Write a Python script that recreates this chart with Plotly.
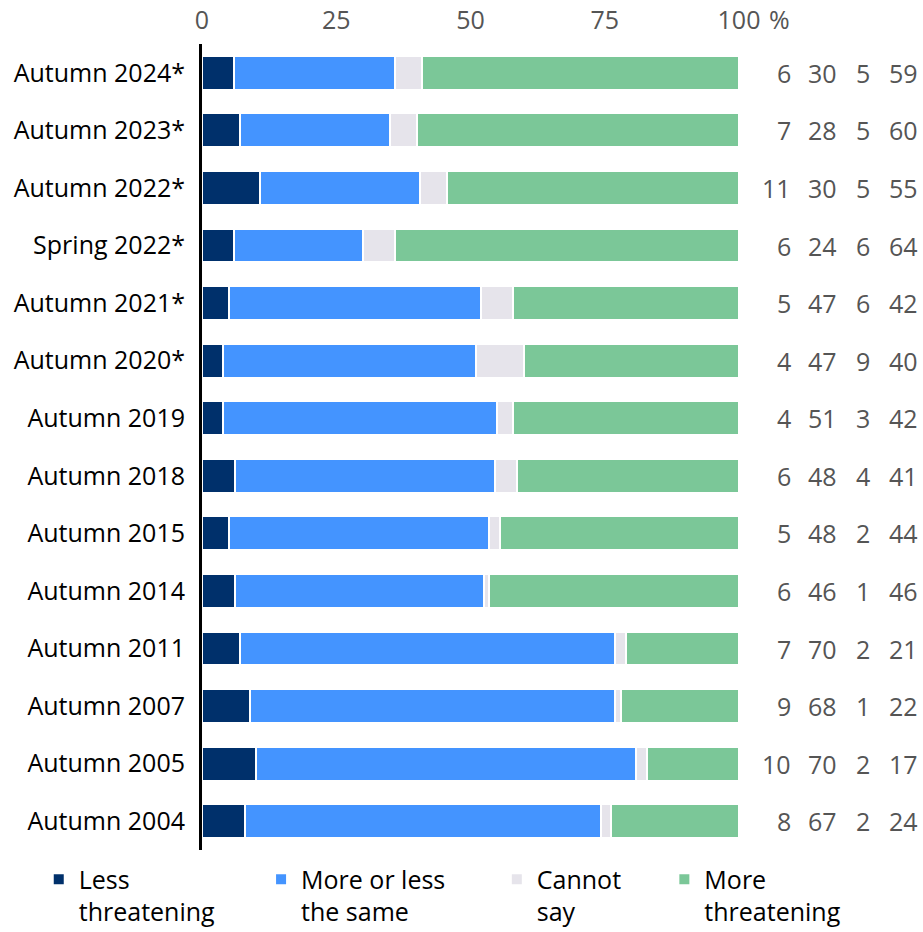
import plotly.graph_objects as go

# ---------------------------------------------------------------------------------------
# Données
# ---------------------------------------------------------------------------------------
periods = ['Autumn 2024*', 'Autumn 2023*', 'Autumn 2022*', 'Spring 2022*',
           'Autumn 2021*', 'Autumn 2020*', 'Autumn 2019', 'Autumn 2018',
           'Autumn 2015', 'Autumn 2014', 'Autumn 2011', 'Autumn 2007',
           'Autumn 2005', 'Autumn 2004']

less_threatening = [6, 7, 11, 6, 5, 4, 4, 6, 5, 6, 7, 9, 10, 8]
same = [30, 28, 30, 24, 47, 47, 51, 48, 48, 46, 70, 68, 70, 67]
cannot_say = [5, 5, 5, 6, 6, 9, 3, 4, 2, 1, 2, 1, 2, 2]
more_threatening = [59, 60, 55, 64, 42, 40, 42, 41, 44, 46, 21, 22, 17, 24]

series_names = ['Less<br>threatening', 'More or less<br>the same', 'Cannot<br>say', 'More<br>threatening']
series_values = [less_threatening, same, cannot_say, more_threatening]
colors = ['#00306b', '#4494ff', '#e6e4eb', '#7bc798']

x_ticks = [0, 25, 50, 75, 100]

FONT = 'Open Sans'
FS = 25

# ---------------------------------------------------------------------------------------
# Figure
# ---------------------------------------------------------------------------------------
fig = go.Figure()

# position des légendes (une par série, pour coller aux écarts du modèle)
legend_x = [-0.304, 0.110, 0.549, 0.861]
legend_names = ['legend', 'legend2', 'legend3', 'legend4']

for i, (name, vals) in enumerate(zip(series_names, series_values)):
    fig.add_trace(go.Bar(
        y=periods,
        x=vals,
        name=name,
        orientation='h',
        marker=dict(color=colors[i], line=dict(color='white', width=2)),
        legend=legend_names[i],
        hoverinfo='skip'
    ))

# colonnes de chiffres à droite
col_x = [1.101, 1.187, 1.248, 1.337]
annotations = []
for j, vals in enumerate(series_values):
    for p, v in zip(periods, vals):
        annotations.append(dict(
            x=col_x[j], xref='paper', y=p, yref='y',
            text=str(v), showarrow=False, xanchor='right', yanchor='middle',
            font=dict(family=FONT, size=FS, color='#555555')
        ))

# le "%" après 100
annotations.append(dict(
    x=100, xref='x', y=1, yref='paper', text='%', showarrow=False,
    xanchor='left', yanchor='middle', xshift=28, yshift=25,
    font=dict(family=FONT, size=FS, color='#555555')
))

layout_legends = {}
for k, ln in enumerate(legend_names):
    layout_legends[ln] = dict(
        x=legend_x[k], xanchor='left', y=-0.008, yanchor='top',
        orientation='h', valign='top', itemwidth=30,
        font=dict(family=FONT, size=FS, color='black'),
        bgcolor='rgba(0,0,0,0)', traceorder='normal'
    )

fig.update_layout(
    width=923, height=932,
    barmode='stack',
    barnorm='percent',
    bargap=0.41,
    plot_bgcolor='white',
    paper_bgcolor='white',
    margin=dict(l=202, r=184, t=44, b=82, autoexpand=False),
    font=dict(family=FONT, size=FS, color='black'),
    showlegend=True,
    annotations=annotations,
    **layout_legends
)

fig.update_xaxes(
    side='top', range=[0, 100], tickvals=x_ticks,
    ticktext=[str(t) for t in x_ticks],
    showgrid=False, zeroline=False, showline=False,
    tickfont=dict(family=FONT, size=FS, color='#555555'),
    ticklabelstandoff=9, fixedrange=True, automargin=False
)
fig.update_yaxes(
    categoryorder='array', categoryarray=periods, autorange='reversed',
    showgrid=False, zeroline=False,
    showline=True, linecolor='black', linewidth=3,
    tickfont=dict(family=FONT, size=FS, color='black'),
    ticklabelstandoff=9, fixedrange=True, automargin=False
)

# marge du body à zéro pour que la figure commence en (0, 0)
fig.write_html("out.html", config={'displayModeBar': False},
               post_script="document.body.style.margin='0';")
